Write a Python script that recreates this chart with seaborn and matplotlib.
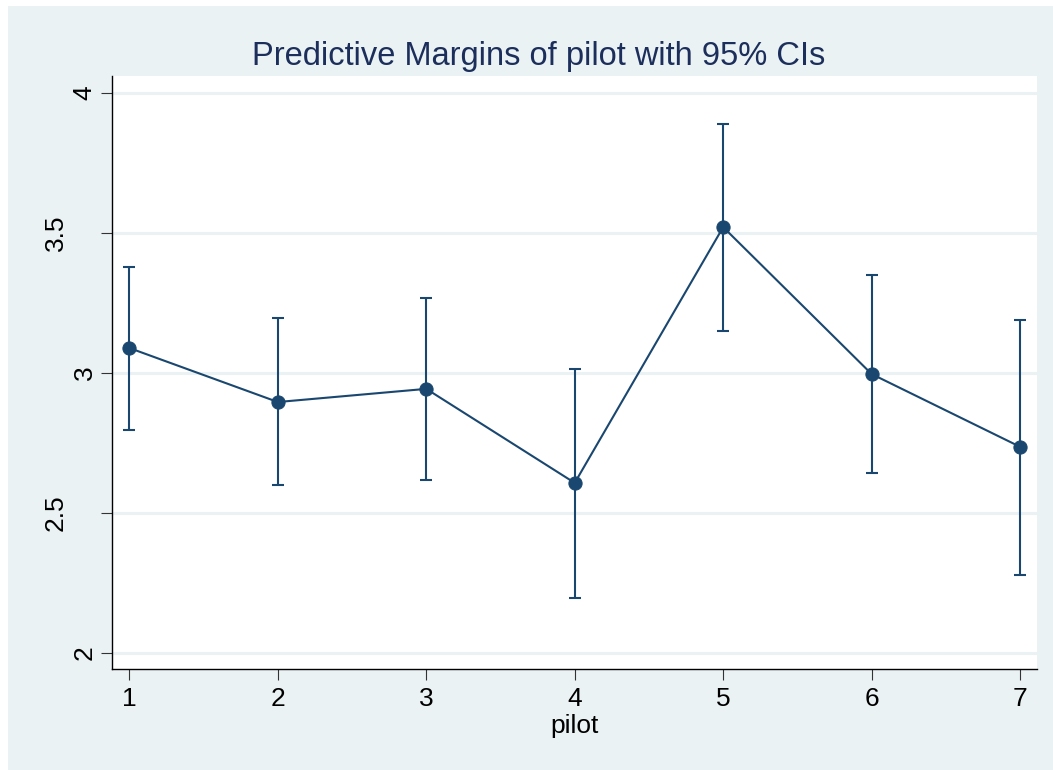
import matplotlib
matplotlib.use("Agg")
import matplotlib.pyplot as plt
import seaborn as sns
import pandas as pd
from matplotlib.patches import Rectangle

pilot = [1, 2, 3, 4, 5, 6, 7]
margin = [3.089, 2.896, 2.943, 2.607, 3.521, 2.996, 2.736]
ci_low = [2.796, 2.600, 2.618, 2.196, 3.150, 2.643, 2.279]
ci_high = [3.379, 3.196, 3.268, 3.014, 3.889, 3.350, 3.189]
yticks = [2, 2.5, 3, 3.5, 4]
ytick_labels = ["2", "2.5", "3", "3.5", "4"]

navy = "#1a476f"
title_color = "#1c2e5b"
bg = "#eaf2f3"

sns.set_style("white")
plt.rcParams["font.family"] = ["Liberation Sans", "DejaVu Sans"]

W, H = 1053, 770
fig = plt.figure(figsize=(W / 100, H / 100), dpi=100, facecolor="white")
fig.patches.append(Rectangle((8 / W, 0), 1 - 8 / W, 1 - 6 / H,
                             transform=fig.transFigure, facecolor=bg,
                             edgecolor="none", zorder=-10))
ax_l, ax_r, ax_t, ax_b = 112, 1036.7, 76, 669
ax = fig.add_axes([ax_l / W, 1 - ax_b / H, (ax_r - ax_l) / W, (ax_b - ax_t) / H])
ax.set_facecolor("white")

df = pd.DataFrame({"pilot": pilot, "margin": margin})

for y in yticks:
    ax.axhline(y, color=bg, lw=2.2, zorder=0)

ax.errorbar(pilot, margin,
            yerr=[[m - l for m, l in zip(margin, ci_low)],
                  [h - m for m, h in zip(margin, ci_high)]],
            fmt="none", ecolor=navy, elinewidth=1.5, capsize=4.3, capthick=1.5, zorder=2)
sns.lineplot(data=df, x="pilot", y="margin", ax=ax, color=navy, lw=1.5,
             marker="o", markersize=9.5, markeredgecolor=navy, zorder=3)

ax.set_xlim(0.883, 7.112)
ax.set_ylim(1.942, 4.061)
ax.set_xticks(pilot)
ax.set_xticklabels([str(p) for p in pilot])
ax.set_yticks(yticks)
ax.set_yticklabels(ytick_labels, rotation=90, va="center")

for s in ["top", "right"]:
    ax.spines[s].set_visible(False)
for s in ["left", "bottom"]:
    ax.spines[s].set_color("black")
    ax.spines[s].set_linewidth(1.0)

ax.tick_params(axis="both", direction="out", length=7.9, width=0.8, color="#333333",
               labelsize=19, labelcolor="black", bottom=True, left=True)
ax.tick_params(axis="y", pad=3)
ax.tick_params(axis="x", pad=5)

# Stata places the longer vertical labels further from the axis
for lab in ax.get_yticklabels():
    if "." in lab.get_text():
        lab.set_x(-29 / (ax_r - ax_l))

ax.set_xlabel("pilot", fontsize=19, color="black", labelpad=2)
ax.set_ylabel("")
fig.text(539 / W, 1 - 56 / H, "Predictive Margins of pilot with 95% CIs",
         ha="center", va="center", fontsize=23.5, color=title_color)

fig.savefig("out.png", dpi=100, facecolor="white")
